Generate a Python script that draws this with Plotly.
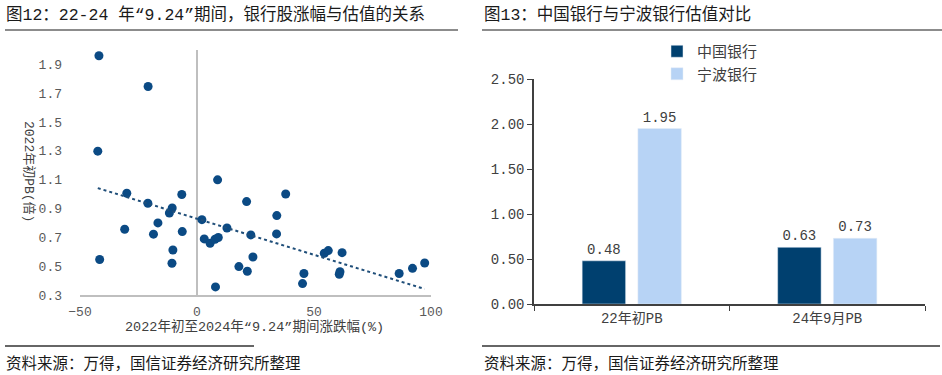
import numpy as np
import plotly.graph_objects as go

# ---------------- data ----------------
# Left: change from early 2022 to "9.24" 2024 (%) vs early-2022 PB
chg_pct = [-41.9, -20.9, -42.4, 8.8, -30.0, -6.5, -21.0, -10.6, -11.8, -16.7,
           2.1, -30.9, -18.6, -6.3, 12.8, 3.1, 5.6, 7.7, 9.1, -10.3,
           -10.7, -41.6, 7.9, 17.9, 37.9, 21.2, 34.1, 23.0, 34.0, 23.9,
           21.5, 54.4, 56.1, 62.0, 45.7, 45.1, 61.1, 60.8, 86.4, 92.1, 97.3]
pb_2022 = [1.96, 1.747, 1.298, 1.099, 1.006, 0.997, 0.937, 0.904, 0.869, 0.80,
           0.823, 0.756, 0.722, 0.740, 0.765, 0.689, 0.659, 0.687, 0.699, 0.612,
           0.52, 0.546, 0.356, 0.497, 1.001, 0.948, 0.851, 0.717, 0.724, 0.564,
           0.465, 0.59, 0.608, 0.594, 0.449, 0.379, 0.462, 0.444, 0.449, 0.485, 0.522]
left_yticks = [0.3, 0.5, 0.7, 0.9, 1.1, 1.3, 1.5, 1.7, 1.9]
left_xticks = [-50, 0, 50, 100]

# Right: PB comparison
bar_categories = ["22年初PB", "24年9月PB"]
boc_pb = [0.48, 0.63]
nbb_pb = [1.95, 0.73]
right_yticks = [0.0, 0.5, 1.0, 1.5, 2.0, 2.5]

W, H = 942, 375
CJK = "Noto Sans CJK SC"
MONO = "Liberation Mono, Noto Sans CJK SC"
MARK = "#0B4A84"
DARK = "#00406F"
LIGHT = "#B7D3F5"
GRAY_TXT = "#404040"


def px_x(p):
    return p / W


def px_y(p):
    return 1 - p / H


fig = go.Figure()

# scatter
fig.add_trace(go.Scatter(
    x=chg_pct, y=pb_2022, mode="markers",
    marker=dict(color=MARK, size=9),
    xaxis="x", yaxis="y", showlegend=False, hoverinfo="x+y"))

# linear trend line computed from the data
coef = np.polyfit(chg_pct, pb_2022, 1)
tx = np.array([min(chg_pct), max(chg_pct)])
ty = np.polyval(coef, tx)
fig.add_trace(go.Scatter(
    x=tx, y=ty, mode="lines",
    line=dict(color="#1F4E79", width=2, dash="dot"),
    xaxis="x", yaxis="y", showlegend=False, hoverinfo="skip"))

# bars
fig.add_trace(go.Bar(
    x=bar_categories, y=boc_pb, name="中国银行",
    marker=dict(color=DARK),
    texttemplate="%{y:.2f}", textposition="outside",
    textfont=dict(size=14, color=GRAY_TXT, family=MONO),
    cliponaxis=False, xaxis="x2", yaxis="y2"))
fig.add_trace(go.Bar(
    x=bar_categories, y=nbb_pb, name="宁波银行",
    marker=dict(color=LIGHT),
    texttemplate="%{y:.2f}", textposition="outside",
    textfont=dict(size=14, color=GRAY_TXT, family=MONO),
    cliponaxis=False, xaxis="x2", yaxis="y2"))

tickfont = dict(size=13, color="#595959", family=MONO)

fig.update_layout(
    width=W, height=H,
    margin=dict(l=0, r=0, t=0, b=0, autoexpand=False),
    paper_bgcolor="white", plot_bgcolor="white",
    font=dict(family=CJK, color=GRAY_TXT),
    bargap=0.43, bargroupgap=0.22,
    xaxis=dict(
        domain=[px_x(80), px_x(431)], range=[-50, 100],
        tickvals=left_xticks, tickfont=tickfont,
        showgrid=False, showline=True, linecolor="#BFBFBF", linewidth=2,
        zeroline=True, zerolinecolor="#BFBFBF", zerolinewidth=1.5,
        ticks="", anchor="y", ticklabelstandoff=3, automargin=False),
    yaxis=dict(
        domain=[px_y(295), px_y(50)], range=[0.3, 2.0],
        tickvals=left_yticks, tickformat=".1f", tickfont=tickfont,
        showgrid=False, showline=False, zeroline=False,
        ticks="", anchor="x", ticklabelstandoff=17, automargin=False),
    xaxis2=dict(
        domain=[px_x(534), px_x(925)], anchor="y2",
        tickfont=dict(size=14, color=GRAY_TXT, family=MONO),
        showgrid=False, showline=True, linecolor="#404040", linewidth=1.5,
        ticks="outside", ticklen=5, tickcolor="#404040", tickson="boundaries",
        automargin=False),
    yaxis2=dict(
        domain=[px_y(304), px_y(79)], range=[0, 2.5], anchor="x2",
        tickvals=right_yticks, tickformat=".2f",
        tickfont=dict(size=14, color=GRAY_TXT, family=MONO),
        showgrid=False, showline=True, linecolor="#404040", linewidth=1.5,
        zeroline=False, ticks="outside", ticklen=5, tickcolor="#404040",
        automargin=False),
    legend=dict(
        x=px_x(657), y=px_y(35), xanchor="left", yanchor="top",
        orientation="v", font=dict(size=15, color=GRAY_TXT, family=CJK),
        bgcolor="rgba(0,0,0,0)", itemwidth=30, tracegroupgap=0),
)

annotations = [
    dict(text="图12：22-24 年“9.24”期间，银行股涨幅与估值的关系",
         x=px_x(4), y=px_y(15), xanchor="left", yanchor="middle",
         font=dict(size=16.5, color="#1A1A1A", family=MONO)),
    dict(text="图13：中国银行与宁波银行估值对比",
         x=px_x(482), y=px_y(15), xanchor="left", yanchor="middle",
         font=dict(size=16.5, color="#1A1A1A", family=MONO)),
    dict(text="资料来源：万得，国信证券经济研究所整理",
         x=px_x(4), y=px_y(362), xanchor="left", yanchor="middle",
         font=dict(size=15.5, color="#1A1A1A", family=CJK)),
    dict(text="资料来源：万得，国信证券经济研究所整理",
         x=px_x(482), y=px_y(362), xanchor="left", yanchor="middle",
         font=dict(size=15.5, color="#1A1A1A", family=CJK)),
    dict(text="2022年初至2024年“9.24”期间涨跌幅(%)",
         x=px_x(254), y=px_y(326), xanchor="center", yanchor="middle",
         font=dict(size=13.5, color=GRAY_TXT, family=MONO)),
    dict(text="2022年初PB(倍)", textangle=90,
         x=px_x(28), y=px_y(171), xanchor="center", yanchor="middle",
         font=dict(size=13, color=GRAY_TXT, family=MONO)),
]
for a in annotations:
    a.update(xref="paper", yref="paper", showarrow=False)
fig.update_layout(annotations=annotations)

line_style = dict(color="#8C8C8C", width=2)
shapes = [
    dict(type="line", x0=px_x(5), x1=px_x(458), y0=px_y(30), y1=px_y(30), line=line_style),
    dict(type="line", x0=px_x(482), x1=px_x(942), y0=px_y(30), y1=px_y(30), line=line_style),
    dict(type="line", x0=px_x(5), x1=px_x(254), y0=px_y(346), y1=px_y(346), line=dict(color="#333333", width=1.5)),
    dict(type="line", x0=px_x(482), x1=px_x(940), y0=px_y(346), y1=px_y(346), line=dict(color="#333333", width=1.5)),
]
for s in shapes:
    s.update(xref="paper", yref="paper")
fig.update_layout(shapes=shapes)

fig.write_html("out.html",
               config={"displayModeBar": False},
               post_script="document.body.style.margin='0';document.body.style.overflow='hidden';")
